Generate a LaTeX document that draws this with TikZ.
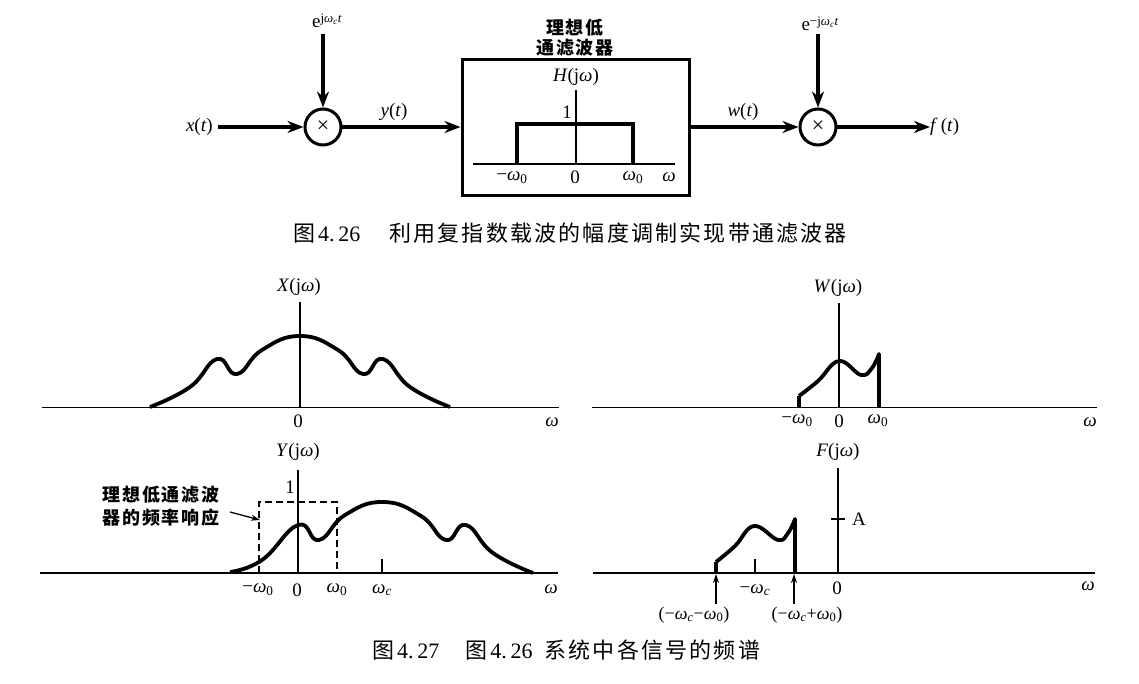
\documentclass[tikz,border=0pt]{standalone}
\usepackage{fontspec}
\usetikzlibrary{arrows.meta}
\setmainfont{Liberation Serif}
\newfontfamily\cjkcap{Noto Sans CJK SC}[LetterSpace=10]
\newfontfamily\cjkbd{Noto Sans CJK SC}[LetterSpace=10]
\newcommand{\om}{\textit{ω}}
\newcommand{\omz}{\textit{ω}\textsubscript{0}}
\newcommand{\omc}{\textit{ω}\textsubscript{\textit{c}}}
\newcommand{\tcap}[1]{{\fontsize{22}{24}\selectfont\rmfamily #1}}
\tikzset{
  x=1pt,y=-1pt,
  lbl/.style={inner sep=0pt,font=\fontsize{19}{21}\selectfont},
  slbl/.style={inner sep=0pt,font=\fontsize{18}{20}\selectfont},
  captxt/.style={inner sep=0pt,anchor=west,font=\fontsize{22}{24}\selectfont\cjkcap},
  bcjk/.style={inner sep=0pt,align=center,font=\fontsize{18}{20}\selectfont\cjkbd\bfseries},
  sig/.style={line width=3.2pt,-{Stealth[length=16pt,width=12pt]}},
  thin1/.style={line width=1.4pt},
  thick1/.style={line width=3.8pt,line join=round},
  mixer/.style={circle,draw,line width=3pt,minimum size=36pt,inner sep=0pt,font=\fontsize{22}{22}\selectfont},
  tip/.style={line width=1.3pt,-{Stealth[length=9pt,width=6pt]}},
}
\begin{document}
\begin{tikzpicture}
\useasboundingbox (0,0) rectangle (1139,684);
% top block diagram
\node[lbl,anchor=east] (xt) at (213,127) {\textit{x}(\textit{t})};
\node[mixer] (m1) at (323,127) {×};
\node[lbl] (e1) at (327,21) {e\raisebox{.55ex}{\fontsize{13}{13}\selectfont j\omc\textit{t}}};
\node[draw,line width=3pt,minimum width=227pt,minimum height=136pt,inner sep=0pt] (lpf) at (575.5,128) {};
\node[bcjk] (lpft) at (575,38) {理想低\\通滤波器};
\node[lbl] (yt) at (394,112) {\textit{y}(\textit{t})};
\node[lbl] (wt) at (743,112) {\textit{w}(\textit{t})};
\node[mixer] (m2) at (818,127) {×};
\node[lbl] (e2) at (820,24) {e\raisebox{.55ex}{\fontsize{13}{13}\selectfont −j\omc\textit{t}}};
\node[lbl,anchor=west] (ft) at (930,127) {\textit{f}\,(\textit{t})};
\coordinate (xs) at (218,127);
\coordinate (e1s) at (323,34);
\coordinate (m1o) at (341,127);
\coordinate (e2s) at (818,34);
\coordinate (m2o) at (836,127);
\draw[sig] (xs) -- (m1);
\draw[sig] (e1s) -- (m1);
\draw[sig] (m1o) -- (lpf.west |- m1);
\draw[sig] (lpf.east |- m2) -- (m2);
\draw[sig] (e2s) -- (m2);
\draw[sig] (m2o) -- (ft.west);
% H
\draw[thin1] (473,164) -- (675,164);
\draw[thin1] (576,90) -- (576,164);
\draw[line width=3.3pt] (517,164) -- (517,124) -- (633,124) -- (633,164);
\node[lbl] (hl) at (576,77) {\textit{H}(j\om)};
\node[lbl] (h1) at (567,112) {1};
\node[lbl] (hm) at (512,178) {−\omz};
\node[lbl] (h0) at (575,177) {0};
\node[lbl] (hp) at (633,178) {\omz};
\node[lbl] (hw) at (669,177) {\om};
\node[captxt] (c1) at (293,233) {图\hspace{3pt}\tcap{4.\,26}\hspace{29pt}利用复指数载波的幅度调制实现带通滤波器};
% X
\draw[thin1] (42,407.5) -- (559,407.5);
\draw[thin1] (300,302) -- (300,407.5);
\draw[thick1] plot[smooth,tension=.8] coordinates {(150,407) (190,387) (217,359) (237,374) (262,350) (300,336) (338,350) (363,374) (383,359) (410,387) (450,407)};
\node[lbl] (xl) at (299,287) {\textit{X}(j\om)};
\node[lbl] (x0) at (298,421) {0};
\node[lbl] (xw) at (552,422) {\om};
% W
\draw[thin1] (592,407.5) -- (1097,407.5);
\draw[thin1] (839,303) -- (839,407.5);
\draw[thick1] (799,407) -- (799,396) plot[smooth,tension=.7] coordinates {(799,396) (818,381) (839,361) (861,375) (872,368) (879,354)} -- (879,407);
\node[lbl] (wl) at (838,288) {\textit{W}(j\om)};
\node[lbl] (wm) at (797,421) {−\omz};
\node[lbl] (w0) at (839,421) {0};
\node[lbl] (wp) at (878,421) {\omz};
\node[lbl] (ww) at (1090,422) {\om};
% Y
\draw[thin1] (40,573) -- (558,573);
\draw[thin1] (298,470) -- (298,573);
\draw[thin1] (382,559) -- (382,573);
\draw[line width=1.3pt,dash pattern=on 7pt off 4pt] (259,573) -- (259,502) -- (337,502) -- (337,573);
\draw[thick1] plot[smooth,tension=.8] coordinates {(230,572) (262,560) (298,525) (319,540) (345,515) (383,502) (421,516) (446,540) (466,525) (493,553) (533,573)};
\node[lbl] (yl) at (298,452) {\textit{Y}(j\om)};
\node[lbl] (y1) at (290,487) {1};
\node[lbl] (ym) at (258,590) {−\omz};
\node[lbl] (y0) at (297,590) {0};
\node[lbl] (yp) at (337,590) {\omz};
\node[lbl] (yc) at (382,590) {\omc};
\node[lbl] (yw) at (551,589) {\om};
\node[bcjk] (ytext) at (161,506.5) {理想低通滤波\\[3pt]器的频率响应};
\coordinate (ytail) at (230,512);
\coordinate (ytip) at (260,520);
\draw[tip] (ytail) -- (ytip);
% F
\draw[thin1] (593,573) -- (1095,573);
\draw[thin1] (838,468) -- (838,573);
\draw[thin1] (755,559) -- (755,573);
\draw[thin1] (831,519) -- (845,519);
\draw[thick1] (716,572) -- (716,562) plot[smooth,tension=.7] coordinates {(716,562) (735,546) (754,526) (778,540) (788,533) (795,519)} -- (795,572);
\node[lbl] (fl) at (838,452) {\textit{F}(j\om)};
\node[lbl] (fa) at (859,519) {A};
\node[lbl] (fm) at (755,590) {−\omc};
\node[lbl] (f0) at (837,588) {0};
\node[lbl] (fw) at (1088,586) {\om};
\node[slbl] (f1) at (694,615) {(−\omc−\omz)};
\node[slbl] (f2) at (807,615) {(−\omc+\omz)};
\coordinate (f1t) at (716,574);
\coordinate (f2t) at (794,574);
\coordinate (f1s) at (716,604);
\coordinate (f2s) at (794,604);
\draw[tip] (f1s) -- (f1t);
\draw[tip] (f2s) -- (f2t);
\node[captxt] (c2) at (372,650) {图\hspace{3pt}\tcap{4.\,27}\hspace{26pt}图\hspace{3pt}\tcap{4.\,26}\hspace{12pt}系统中各信号的频谱};
\end{tikzpicture}
\end{document}
